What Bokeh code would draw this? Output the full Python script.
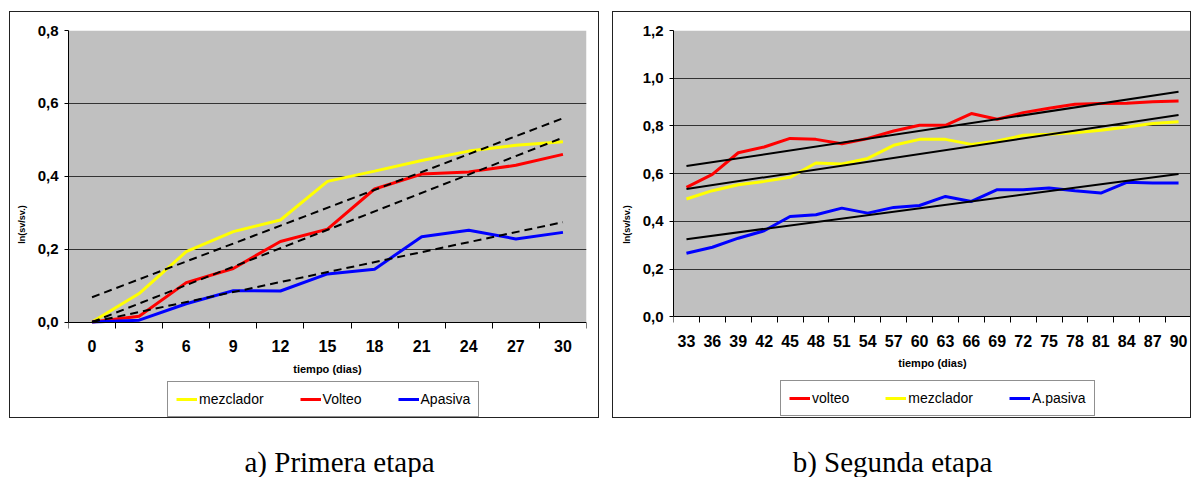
from bokeh.plotting import figure
from bokeh.models import (ColumnDataSource, FixedTicker, Legend, LegendItem, Label, Range1d,
                          BoxAnnotation)
from bokeh.layouts import column, row
from bokeh.embed import file_html
from bokeh.resources import INLINE

# ---------------- data: a) Primera etapa ----------------
days_a = [0, 3, 6, 9, 12, 15, 18, 21, 24, 27, 30]
mezclador_a = [0.000, 0.078, 0.193, 0.248, 0.280, 0.386, 0.414, 0.443, 0.469, 0.485, 0.495]
volteo_a = [0.000, 0.016, 0.108, 0.147, 0.221, 0.255, 0.365, 0.406, 0.412, 0.430, 0.460]
apasiva_a = [0.000, 0.005, 0.050, 0.086, 0.085, 0.132, 0.145, 0.234, 0.252, 0.228, 0.246]
trend_days_a = [0, 30]
trend_upper_a = [0.068, 0.559]
trend_mid_a = [0.000, 0.506]
trend_low_a = [0.000, 0.274]
yticks_a = [0.0, 0.2, 0.4, 0.6, 0.8]
ylabels_a = ["0,0", "0,2", "0,4", "0,6", "0,8"]

# ---------------- data: b) Segunda etapa ----------------
days_b = [33, 36, 39, 42, 45, 48, 51, 54, 57, 60, 63, 66, 69, 72, 75, 78, 81, 84, 87, 90]
volteo_b = [0.543, 0.597, 0.688, 0.712, 0.748, 0.744, 0.726, 0.748, 0.779, 0.803,
            0.803, 0.852, 0.828, 0.856, 0.874, 0.891, 0.894, 0.895, 0.902, 0.905]
mezclador_b = [0.494, 0.529, 0.554, 0.568, 0.585, 0.645, 0.641, 0.664, 0.719, 0.744,
               0.744, 0.723, 0.737, 0.761, 0.765, 0.772, 0.782, 0.796, 0.810, 0.818]
apasiva_b = [0.267, 0.292, 0.330, 0.361, 0.421, 0.428, 0.456, 0.435, 0.459, 0.467,
             0.505, 0.484, 0.533, 0.533, 0.540, 0.529, 0.519, 0.564, 0.561, 0.561]
trend_days_b = [33, 90]
trend_volteo_b = [0.632, 0.943]
trend_mezclador_b = [0.536, 0.846]
trend_apasiva_b = [0.326, 0.599]
yticks_b = [0.0, 0.2, 0.4, 0.6, 0.8, 1.0, 1.2]
ylabels_b = ["0,0", "0,2", "0,4", "0,6", "0,8", "1,0", "1,2"]

captions = ["a) Primera etapa", "b) Segunda etapa"]

SANS = "Liberation Sans"
SERIF = "Liberation Serif"
FRAME_BG = "#c0c0c0"
GRID = "#333333"
YELLOW, RED, BLUE = "#ffff00", "#ff0000", "#0000ff"


def make_panel(days, ymax, yticks, ylabels, frame_w, plot_px, below_px, mb_left, mb_right, mb_top):
    """Frame covers the grey plot area (plot_px tall) plus a white strip of
    below_px under y=0 that holds the tick labels, axis title and legend."""
    step = days[1] - days[0]
    ymin = -ymax * below_px / plot_px
    p = figure(frame_width=frame_w, frame_height=plot_px + below_px,
               output_backend="svg", toolbar_location=None,
               x_range=Range1d(days[0] - step / 2, days[-1] + step / 2),
               y_range=Range1d(ymin, ymax),
               min_border_left=mb_left, min_border_right=mb_right,
               min_border_top=mb_top, min_border_bottom=1,
               background_fill_color="white", border_fill_color="white",
               outline_line_color=None,
               styles={"border": "1px solid #222222"})
    # grey plot area (from 0 up to the top of the value axis)
    p.add_layout(BoxAnnotation(bottom=0, top=ymax, fill_color=FRAME_BG, fill_alpha=1.0,
                               line_color=None, level="image"))
    p.xgrid.visible = False
    p.ygrid.ticker = FixedTicker(ticks=yticks[1:-1])
    p.ygrid.grid_line_color = GRID
    p.ygrid.grid_line_width = 1

    xa = p.xaxis[0]
    xa.fixed_location = 0
    xa.ticker = FixedTicker(ticks=days, minor_ticks=[d - step / 2 for d in days] + [days[-1] + step / 2])
    xa.major_tick_line_color = None
    xa.major_tick_out = 6
    xa.major_tick_in = 0
    xa.minor_tick_line_color = "black"
    xa.minor_tick_out = 6
    xa.minor_tick_in = 0
    xa.axis_line_color = "black"
    xa.major_label_text_font = SANS
    xa.major_label_text_font_size = "16px"
    xa.major_label_text_font_style = "bold"
    xa.major_label_text_color = "black"
    xa.major_label_standoff = 12
    xa.axis_label = "tiempo (dias)"
    xa.axis_label_text_font = SANS
    xa.axis_label_text_font_size = "11px"
    xa.axis_label_text_font_style = "bold"
    xa.axis_label_text_color = "black"
    xa.axis_label_standoff = 7

    ya = p.yaxis[0]
    ya.bounds = (0, ymax)
    ya.ticker = FixedTicker(ticks=yticks)
    ya.major_label_overrides = dict(zip(yticks, ylabels))
    ya.minor_tick_line_color = None
    ya.major_tick_out = 4
    ya.major_tick_in = 0
    ya.major_tick_line_color = "black"
    ya.axis_line_color = "black"
    ya.major_label_text_font = SANS
    ya.major_label_text_font_size = "15px"
    ya.major_label_text_font_style = "bold"
    ya.major_label_text_color = "black"
    ya.major_label_standoff = 6
    ya.axis_label = "ln(sv/sv.)"
    ya.axis_label_text_font = SANS
    ya.axis_label_text_font_size = "9px"
    ya.axis_label_text_font_style = "bold"
    ya.axis_label_text_color = "black"
    ya.axis_label_standoff = 8
    return p


def add_legend(p, items, loc):
    lg = Legend(items=items, orientation="horizontal", location=loc,
                border_line_color="#222222", border_line_width=1,
                background_fill_color="white", background_fill_alpha=1.0,
                label_text_font=SANS, label_text_font_size="14px",
                label_text_color="black", label_standoff=2,
                glyph_width=21, glyph_height=18, label_height=18,
                spacing=36, padding=8, margin=0)
    p.add_layout(lg, "center")


# ---------------- panel a ----------------
pa = make_panel(days_a, 0.8, yticks_a, ylabels_a, 516, 290, 96, 58, 14, 18)
src_a = ColumnDataSource(dict(d=days_a, m=mezclador_a, v=volteo_a, a=apasiva_a))
ra_m = pa.line("d", "m", source=src_a, line_color=YELLOW, line_width=3)
ra_v = pa.line("d", "v", source=src_a, line_color=RED, line_width=3)
ra_a = pa.line("d", "a", source=src_a, line_color=BLUE, line_width=3)
tsrc_a = ColumnDataSource(dict(d=trend_days_a, u=trend_upper_a, m=trend_mid_a, l=trend_low_a))
for col in ["u", "m", "l"]:
    pa.line("d", col, source=tsrc_a, line_color="black", line_width=2, line_dash="8 5")
add_legend(pa, [LegendItem(label="mezclador", renderers=[ra_m]),
                LegendItem(label="Volteo", renderers=[ra_v]),
                LegendItem(label="Apasiva", renderers=[ra_a])], (99, 1))

# ---------------- panel b ----------------
pb = make_panel(days_b, 1.2, yticks_b, ylabels_b, 516, 285, 101, 60, 1, 18)
src_b = ColumnDataSource(dict(d=days_b, v=volteo_b, m=mezclador_b, a=apasiva_b))
rb_v = pb.line("d", "v", source=src_b, line_color=RED, line_width=3)
rb_m = pb.line("d", "m", source=src_b, line_color=YELLOW, line_width=3)
rb_a = pb.line("d", "a", source=src_b, line_color=BLUE, line_width=3)
tsrc_b = ColumnDataSource(dict(d=trend_days_b, v=trend_volteo_b, m=trend_mezclador_b, a=trend_apasiva_b))
for col in ["v", "m", "a"]:
    pb.line("d", col, source=tsrc_b, line_color="black", line_width=2)
add_legend(pb, [LegendItem(label="volteo", renderers=[rb_v]),
                LegendItem(label="mezclador", renderers=[rb_m]),
                LegendItem(label="A.pasiva", renderers=[rb_a])], (107, 2))

# ---------------- captions ----------------
pc = figure(width=1191, height=59, output_backend="svg", toolbar_location=None,
            x_range=Range1d(0, 1191), y_range=Range1d(0, 59),
            min_border=0, outline_line_color=None)
pc.axis.visible = False
pc.grid.visible = False
for cx, txt in zip([339, 892], captions):
    pc.add_layout(Label(x=cx, y=16, text=txt,
                        text_font=SERIF, text_font_size="29px", text_color="black",
                        text_align="center", text_baseline="alphabetic"))

layout = column(row(pa, pb, spacing=13, margin=(11, 0, 0, 9)), pc)
open("out.html", "w").write(file_html(layout, INLINE))
